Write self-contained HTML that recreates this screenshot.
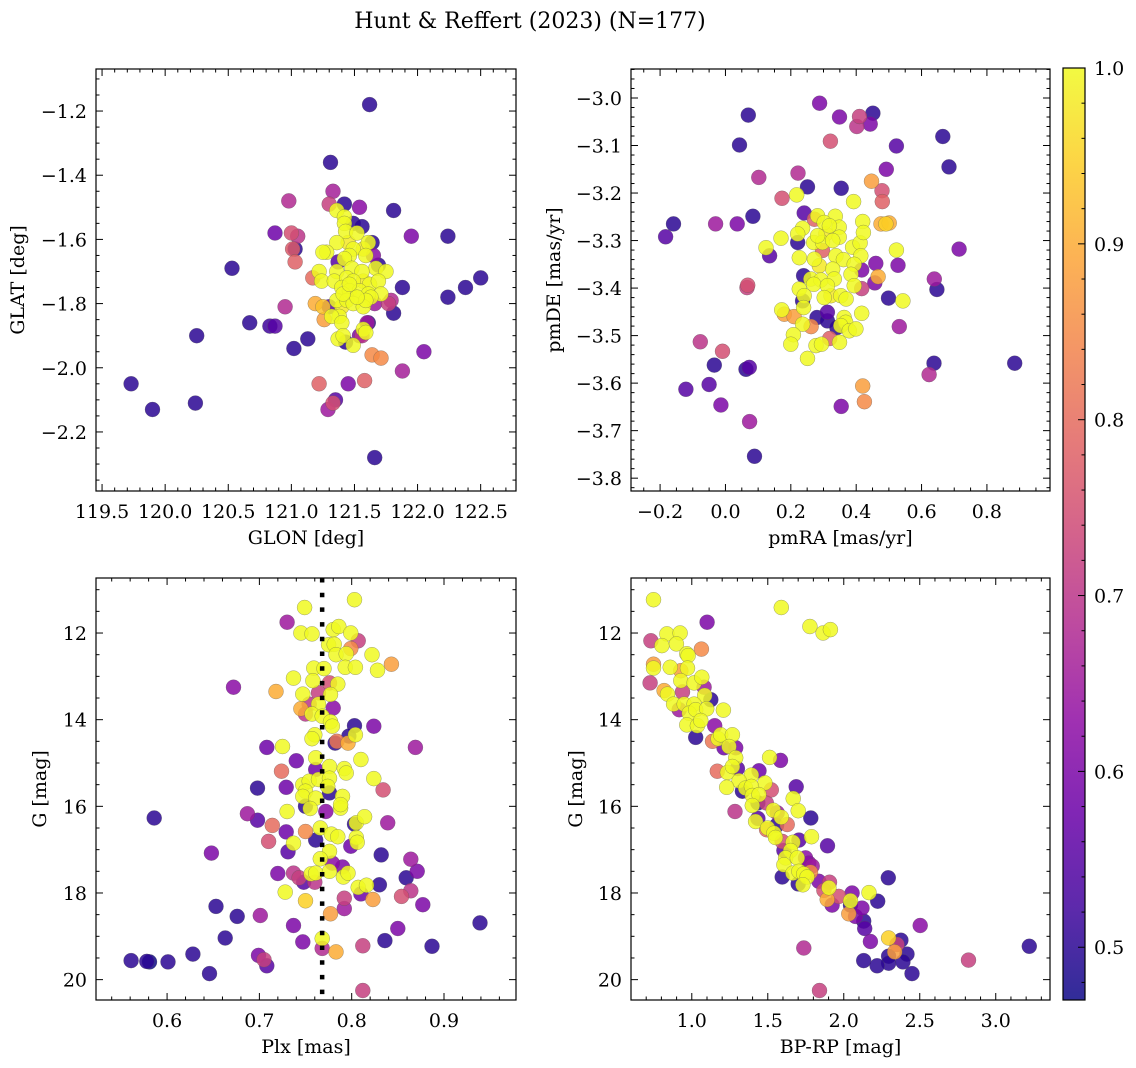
<!DOCTYPE html>
<html><head><meta charset="utf-8"><title>Hunt & Reffert (2023)</title>
<style>
html,body{margin:0;padding:0;background:#fff;}
svg{display:block;font-family:"DejaVu Serif","Liberation Serif",serif;}
</style></head>
<body>
<svg id="fig" width="1136" height="1068" viewBox="0 0 1136 1068" xmlns="http://www.w3.org/2000/svg">
<text x="530" y="28" text-anchor="middle" font-size="22">Hunt &amp; Reffert (2023) (N=177)</text>
</svg>
<script>
// ---------- Panel 1: GLON vs GLAT ----------
const glon = [121.62,121.31,121.33,120.98,121.30,121.42,121.54,121.81,120.87,121.00,121.05,121.95,122.24,121.03,121.01,121.03,120.53,121.17,121.88,122.50,122.38,122.24,121.79,121.77,121.81,120.95,121.19,121.25,120.67,120.83,120.87,121.26,120.25,121.13,121.02,121.60,121.56,121.64,121.71,122.05,121.88,119.73,119.90,120.24,121.22,121.45,121.58,121.35,121.33,121.29,121.66,
121.49,121.56,121.64,121.37,121.69,121.65,121.30,121.61,121.43,121.66,121.54,
121.36,121.42,121.42,121.43,121.52,121.36,121.45,121.49,121.61,121.28,121.25,121.46,121.59,121.57,121.42,121.67,121.75,121.22,121.24,121.36,121.48,121.56,121.34,121.44,121.49,121.57,121.62,121.69,121.71,121.40,121.46,121.54,121.61,121.63,121.36,121.44,121.49,121.57,121.40,121.38,121.32,121.40,121.37,121.41,121.49,121.57,121.59,121.59,121.52,121.41,121.46];
const glat = [-1.18,-1.36,-1.45,-1.48,-1.49,-1.49,-1.50,-1.51,-1.58,-1.58,-1.59,-1.59,-1.59,-1.63,-1.63,-1.67,-1.69,-1.72,-1.75,-1.72,-1.75,-1.78,-1.79,-1.80,-1.83,-1.81,-1.80,-1.81,-1.86,-1.87,-1.87,-1.85,-1.90,-1.91,-1.94,-1.86,-1.90,-1.96,-1.97,-1.95,-2.01,-2.05,-2.13,-2.11,-2.05,-2.05,-2.04,-2.10,-2.11,-2.13,-2.28,
-1.55,-1.56,-1.61,-1.67,-1.68,-1.65,-1.81,-1.86,-1.92,-1.80,-1.90,
-1.51,-1.53,-1.55,-1.575,-1.58,-1.61,-1.61,-1.63,-1.61,-1.64,-1.64,-1.65,-1.65,-1.63,-1.66,-1.69,-1.70,-1.70,-1.73,-1.70,-1.69,-1.70,-1.73,-1.72,-1.73,-1.73,-1.74,-1.73,-1.77,-1.75,-1.76,-1.76,-1.77,-1.78,-1.79,-1.79,-1.80,-1.81,-1.81,-1.84,-1.84,-1.86,-1.91,-1.90,-1.93,-1.88,-1.89,-1.79,-1.78,-1.77,-1.74];
const probTL = [0.5,0.5,0.66,0.68,0.72,0.5,0.62,0.5,0.58,0.75,0.7,0.6,0.5,0.5,0.77,0.78,0.5,0.8,0.5,0.5,0.5,0.5,0.68,0.72,0.5,0.68,0.9,0.93,0.5,0.52,0.55,0.88,0.5,0.5,0.5,0.65,0.7,0.85,0.85,0.6,0.66,0.5,0.5,0.5,0.78,0.6,0.78,0.55,0.75,0.65,0.5,
0.5,0.5,0.5,0.55,0.5,0.62,0.55,0.5,0.5,0.65,0.6,
1,1,1,1,1,1,0.98,1,1,1,1,1,1,0.98,1,1,1,1,1,1,1,1,1,1,1,0.98,1,1,1,1,1,1,1,1,1,1,1,1,0.98,1,1,1,1,1,1,1,1,1,1,1,1];

// ---------- Panel 2: pmRA vs pmDE ----------
const pmra = [0.288,0.070,0.349,0.410,0.451,0.402,0.443,0.321,0.043,0.665,0.523,0.684,0.492,0.102,0.222,0.447,0.251,0.354,0.479,0.480,0.173,0.218,0.392,0.241,0.084,-0.159,-0.183,-0.030,0.036,0.715,0.135,0.124,0.170,0.476,0.491,0.501,0.523,0.460,0.528,0.639,0.647,0.068,0.066,0.499,0.543,0.467,0.457,0.417,0.532,0.172,0.180,0.210,-0.077,-0.009,-0.034,0.063,0.073,0.638,0.623,0.885,-0.121,-0.050,-0.014,0.420,0.425,0.354,0.074,0.089,0.319,0.262,
0.221,0.239,0.236,0.280,0.312,0.312,0.341,0.417,0.417,0.297,0.272,
0.282,0.336,0.302,0.348,0.318,0.236,0.221,0.307,0.348,0.270,0.297,0.328,0.389,0.412,0.420,0.422,0.226,0.272,0.287,0.338,0.361,0.414,0.394,0.328,0.384,0.261,0.292,0.333,0.270,0.312,0.394,0.226,0.241,0.302,0.323,0.353,0.369,0.239,0.236,0.208,0.200,0.251,0.277,0.294,0.349,0.363,0.368,0.353,0.379,0.399,0.282];
const pmde = [-3.011,-3.036,-3.040,-3.039,-3.032,-3.060,-3.055,-3.091,-3.099,-3.081,-3.101,-3.145,-3.150,-3.167,-3.158,-3.175,-3.187,-3.190,-3.195,-3.218,-3.211,-3.204,-3.218,-3.242,-3.249,-3.265,-3.292,-3.265,-3.265,-3.318,-3.332,-3.315,-3.295,-3.265,-3.265,-3.263,-3.320,-3.348,-3.352,-3.381,-3.403,-3.394,-3.399,-3.421,-3.427,-3.376,-3.389,-3.453,-3.481,-3.446,-3.455,-3.460,-3.513,-3.533,-3.562,-3.571,-3.567,-3.558,-3.582,-3.558,-3.613,-3.603,-3.646,-3.606,-3.639,-3.649,-3.681,-3.754,-3.506,-3.481,
-3.304,-3.374,-3.427,-3.462,-3.451,-3.469,-3.483,-3.401,-3.362,-3.321,-3.255,
-3.248,-3.249,-3.262,-3.272,-3.269,-3.274,-3.286,-3.286,-3.293,-3.304,-3.304,-3.300,-3.314,-3.305,-3.260,-3.283,-3.336,-3.339,-3.353,-3.332,-3.340,-3.332,-3.350,-3.360,-3.371,-3.381,-3.383,-3.381,-3.392,-3.395,-3.395,-3.402,-3.416,-3.420,-3.416,-3.416,-3.423,-3.441,-3.476,-3.498,-3.518,-3.548,-3.521,-3.518,-3.514,-3.462,-3.472,-3.479,-3.490,-3.486,-3.290];
const probTR = [0.6,0.5,0.6,0.72,0.5,0.7,0.6,0.75,0.5,0.5,0.55,0.5,0.6,0.68,0.68,0.88,0.5,0.5,0.75,0.78,0.75,1,1,0.55,0.5,0.5,0.55,0.65,0.6,0.6,0.55,1,1,0.9,0.95,0.9,1,0.6,0.6,0.65,0.5,0.75,0.72,0.5,1,0.9,0.6,1,0.65,1,0.88,0.88,0.7,0.75,0.5,0.5,0.55,0.5,0.68,0.5,0.55,0.55,0.6,0.88,0.85,0.6,0.65,0.5,0.78,0.85,
0.5,0.5,0.5,0.5,0.55,0.5,0.5,0.72,0.6,0.78,0.78,
1,1,1,1,1,1,1,0.98,1,1,1,1,1,1,1,1,1,1,0.98,1,1,1,1,1,1,1,1,1,1,1,1,1,1,1,0.98,1,1,1,1,1,1,1,1,1,1,1,1,1,1,1,1];

// ---------- Panel 3: Plx vs G ----------
const plx = [0.749,0.803,0.730,0.745,0.757,0.780,0.786,0.799,0.807,0.799,0.775,0.781,0.783,0.794,0.822,0.759,0.770,0.793,0.804,0.828,0.843,0.737,0.672,0.718,0.758,0.776,0.785,0.747,0.764,0.777,0.754,0.764,0.780,0.745,0.750,0.757,0.768,0.777,0.779,0.803,0.824,0.797,0.804,0.782,0.784,0.796,0.760,0.757,0.708,0.725,0.869,0.740,0.761,0.810,0.761,0.776,0.792,0.794,0.724,0.824,0.834,0.698,0.729,0.747,0.754,0.764,0.776,0.774,0.750,0.776,0.790,0.747,0.761,0.586,0.687,0.698,0.730,0.750,0.755,0.772,0.788,0.788,0.714,0.729,0.750,0.766,0.761,0.778,0.785,0.803,0.805,0.814,0.839,0.710,0.737,0.731,0.799,0.805,0.806,0.648,0.776,0.766,0.832,0.864,0.720,0.737,0.743,0.748,0.756,0.761,0.760,0.776,0.779,0.790,0.791,0.796,0.807,0.816,0.810,0.830,0.859,0.871,0.728,0.750,0.792,0.823,0.854,0.864,0.877,0.653,0.676,0.701,0.777,0.792,0.737,0.850,0.939,0.663,0.747,0.768,0.768,0.783,0.812,0.836,0.887,0.628,0.561,0.578,0.581,0.601,0.699,0.705,0.708,0.646,0.812];
const gPlx = [11.41,11.23,11.75,12.00,12.02,11.92,11.85,12.00,12.18,12.36,12.27,12.26,12.50,12.48,12.50,12.81,12.82,12.79,12.79,12.86,12.72,13.04,13.25,13.35,13.10,13.15,13.18,13.41,13.38,13.42,13.64,13.64,13.73,13.75,13.87,13.87,13.92,14.05,14.15,14.14,14.15,14.38,14.35,14.54,14.50,14.54,14.35,14.44,14.64,14.62,14.64,14.95,14.88,14.92,15.15,15.08,15.13,15.23,15.19,15.36,15.62,15.58,15.56,15.50,15.42,15.38,15.35,15.54,15.65,15.69,15.77,15.77,15.81,16.27,16.17,16.32,16.12,16.00,16.05,16.12,16.04,15.96,16.44,16.59,16.58,16.50,16.78,16.64,16.70,16.41,16.38,16.24,16.38,16.81,16.85,17.05,16.92,16.72,16.83,17.08,17.04,17.21,17.12,17.22,17.55,17.54,17.65,17.75,17.56,17.54,17.75,17.50,17.31,17.40,17.63,17.54,17.87,17.82,18.02,17.81,17.65,17.50,17.98,18.18,18.12,18.15,18.08,17.95,18.27,18.31,18.54,18.52,18.48,18.36,18.75,18.82,18.69,19.04,19.13,19.05,19.28,19.36,19.22,19.10,19.23,19.41,19.56,19.58,19.59,19.59,19.44,19.54,19.68,19.86,20.25];
const probBL = [1,1,0.65,1,1,1,1,1,0.72,0.85,1,1,1,1,1,1,1,1,1,1,0.88,1,0.62,0.9,1,0.75,1,1,0.72,1,0.7,1,0.62,0.9,0.7,1,1,1,1,0.5,0.6,0.5,1,0.5,0.82,0.9,1,1,0.58,1,0.65,0.58,1,1,0.58,1,1,1,0.8,1,0.75,0.5,0.58,1,1,1,1,1,1,0.5,1,1,1,0.5,0.65,0.55,1,0.5,1,0.62,1,1,0.8,0.58,0.85,1,0.5,1,1,0.5,1,1,0.65,0.75,1,0.55,0.58,1,1,0.6,1,1,0.5,0.65,0.6,0.7,0.72,0.55,1,1,0.7,1,0.62,0.6,1,1,1,1,0.58,0.5,0.5,0.6,1,0.95,0.72,0.88,0.75,0.7,0.6,0.5,0.5,0.65,0.88,0.65,0.6,0.6,0.5,0.5,0.6,1,0.68,0.9,0.72,0.5,0.5,0.5,0.5,0.5,0.45,0.5,0.6,0.72,0.55,0.5,0.72];
const plxRef = [0.768];

// ---------- Panel 4: BP-RP vs G ----------
const bprp = [0.748,1.589,1.101,1.777,1.864,1.912,0.836,0.923,0.731,0.803,0.899,1.063,0.967,0.976,0.748,0.748,0.858,0.928,0.972,0.726,0.928,1.015,1.066,0.818,0.840,0.939,1.081,1.085,1.125,0.880,0.950,1.015,0.917,0.983,1.026,1.098,1.208,0.967,1.037,1.059,1.026,1.151,1.136,1.173,1.190,1.267,1.212,1.245,1.289,1.512,1.584,1.289,1.168,1.234,1.267,1.300,1.442,1.392,1.481,1.311,1.230,1.333,1.354,1.392,1.398,1.442,1.523,1.687,1.398,1.435,1.284,1.490,1.536,1.562,1.589,1.667,1.700,1.783,1.420,1.435,1.492,1.499,1.540,1.558,1.628,1.551,1.595,1.665,1.705,1.788,1.893,1.606,1.650,1.617,1.606,1.694,1.748,1.770,1.792,1.595,1.665,1.705,1.737,1.759,1.781,1.700,1.731,1.836,1.906,1.902,1.869,1.891,1.923,1.967,2.044,2.033,2.044,2.055,2.077,2.120,2.131,2.138,2.166,2.293,2.223,2.175,2.503,1.737,2.295,2.376,2.350,2.335,2.416,2.295,2.295,2.389,2.131,2.219,2.449,2.821,3.221,1.840];
const gCmd = [11.23,11.41,11.75,11.85,12.00,11.92,12.02,12.00,12.18,12.29,12.25,12.37,12.48,12.52,12.72,12.81,12.79,12.87,12.81,13.15,13.10,13.15,13.02,13.33,13.41,13.36,13.25,13.44,13.54,13.64,13.64,13.64,13.77,13.85,13.77,13.75,13.78,14.12,14.14,14.02,14.41,14.14,14.50,14.44,14.35,14.35,14.65,14.62,14.65,14.87,14.94,14.88,15.19,15.22,15.08,15.13,15.18,15.28,15.46,15.41,15.56,15.65,15.58,15.54,15.75,15.73,15.62,15.55,15.98,15.92,16.12,15.92,16.09,16.15,16.25,15.82,16.10,16.27,16.35,16.28,16.54,16.50,16.62,16.44,16.42,16.72,16.81,16.83,16.78,16.70,16.91,17.02,17.02,17.19,17.35,17.19,17.19,17.31,17.38,17.63,17.54,17.50,17.56,17.63,17.52,17.79,17.81,17.73,17.75,17.88,17.94,18.15,18.28,18.08,18.28,18.48,18.18,18.00,18.54,18.35,18.65,18.82,17.99,17.65,18.19,19.12,18.75,19.27,19.04,19.09,19.19,19.36,19.41,19.46,19.62,19.59,19.56,19.68,19.86,19.55,19.23,20.25];
const probBR = [1,1,0.6,1,1,1,1,1,0.72,1,1,0.85,1,1,0.88,1,1,0.88,1,0.72,1,1,1,0.9,1,0.72,0.65,1,0.5,1,1,1,0.65,1,1,1,1,1,1,1,0.5,0.62,0.82,1,1,1,0.58,1,0.6,1,0.6,1,0.8,1,1,0.55,0.58,1,1,1,1,0.5,1,1,1,1,0.75,0.55,1,0.5,0.7,0.72,1,0.65,1,1,1,0.5,1,0.55,0.8,1,1,0.5,0.8,1,0.75,1,0.55,1,0.55,0.55,1,1,1,1,0.62,0.62,0.65,0.5,1,1,1,1,0.85,0.5,1,0.6,0.72,1,0.75,0.9,0.6,0.75,0.5,0.88,1,0.6,0.6,0.6,0.5,0.55,1,0.5,0.5,0.6,0.62,0.68,0.95,0.5,0.72,0.88,0.5,0.5,0.5,0.5,0.5,0.5,0.5,0.72,0.5,0.72];

// ---------- Colorbar ----------
const cbarTicks = [0.5,0.6,0.7,0.8,0.9,1.0];
const cbarRange = [0.47,1.0];

const NS = "http://www.w3.org/2000/svg";
const svg = document.getElementById('fig');
const FS = 19;
const plasmaStops = ["#0d0887","#41049d","#6a00a8","#8f0da4","#b12a90","#cc4778","#e16462","#f2844b","#fca636","#fcce25","#f0f921"];
function hex2rgb(h){return [parseInt(h.substr(1,2),16),parseInt(h.substr(3,2),16),parseInt(h.substr(5,2),16)];}
function plasma(t){
  t=Math.max(0,Math.min(1,t));
  const f=t*10, i=Math.min(9,Math.floor(f)), r=f-i;
  const a=hex2rgb(plasmaStops[i]), b=hex2rgb(plasmaStops[i+1]);
  return "rgb("+a.map((v,k)=>Math.round(v+(b[k]-v)*r)).join(",")+")";
}
function cnorm(v){return (v-cbarRange[0])/(cbarRange[1]-cbarRange[0]);}
function mk(tag,attrs,parent){const e=document.createElementNS(NS,tag);for(const k in attrs)e.setAttribute(k,attrs[k]);(parent||svg).appendChild(e);return e;}
function fmt(v,d){const s=Math.abs(v).toFixed(d);return (v<-1e-9?"\u2212":"")+s;}
function tickVals(lo,hi,step){const a=[];const k0=Math.ceil(Math.min(lo,hi)/step-1e-6),k1=Math.floor(Math.max(lo,hi)/step+1e-6);for(let k=k0;k<=k1;k++)a.push(+(k*step).toFixed(6));return a;}

function panel(cfg){
  const {name,x0,x1,y0,y1,xd,yd,xMaj,xMin,yMaj,yMin,xDec,yDec,xLabel,yLabel,yLabelX,xs,ys,cs} = cfg;
  const sx=v=>x0+(v-xd[0])/(xd[1]-xd[0])*(x1-x0);
  const sy=v=>y1-(v-yd[0])/(yd[1]-yd[0])*(y1-y0);
  const g=mk('g',{});
  
  
  const clipId=name+'-clip';
  const cp=mk('clipPath',{id:clipId},g); mk('rect',{x:x0,y:y0,width:x1-x0,height:y1-y0},cp);
  const pts=mk('g',{'clip-path':'url(#'+clipId+')'},g);
  
  
  const idx=xs.map((_,i)=>i).sort((a,b)=>cs[a]-cs[b]);
  idx.forEach(i=>{
    const c=mk('circle',{cx:sx(xs[i]).toFixed(1),cy:sy(ys[i]).toFixed(1),r:7.5,fill:plasma(cnorm(cs[i])),'fill-opacity':0.85,stroke:'#555','stroke-width':0.5,'stroke-opacity':0.55},pts);
    
    
  });
  if(cfg.vline){
    const l=mk('line',{x1:sx(cfg.vline[0]),x2:sx(cfg.vline[0]),y1:y0,y2:y1,stroke:'#000','stroke-width':4.5,'stroke-dasharray':'4.5 10.2'},g);
    
    
  }
  const fr=mk('rect',{x:x0,y:y0,width:x1-x0,height:y1-y0,fill:'none',stroke:'#000','stroke-width':1.2},g);
  
  
  const tk=mk('g',{stroke:'#000','stroke-width':1},g);
  const xm=tickVals(xd[0],xd[1],xMaj), xn=tickVals(xd[0],xd[1],xMin);
  xn.forEach(v=>{const maj=xm.some(m=>Math.abs(m-v)<1e-6);const L=maj?7:3.5;const X=sx(v);
    mk('line',{x1:X,x2:X,y1:y1,y2:y1-L},tk);mk('line',{x1:X,x2:X,y1:y0,y2:y0+L},tk);});
  const ym=tickVals(yd[0],yd[1],yMaj), yn=tickVals(yd[0],yd[1],yMin);
  yn.forEach(v=>{const maj=ym.some(m=>Math.abs(m-v)<1e-6);const L=maj?7:3.5;const Y=sy(v);
    mk('line',{x1:x0,x2:x0+L,y1:Y,y2:Y},tk);mk('line',{x1:x1,x2:x1-L,y1:Y,y2:Y},tk);});
  xm.forEach(v=>{const t=mk('text',{x:sx(v),y:y1+27,'text-anchor':'middle','font-size':FS},g);t.textContent=fmt(v,xDec);
    
    });
  ym.forEach(v=>{const t=mk('text',{x:x0-9,y:sy(v)+7,'text-anchor':'end','font-size':FS},g);t.textContent=fmt(v,yDec);
    
    });
  const xl=mk('text',{x:(x0+x1)/2,y:y1+53,'text-anchor':'middle','font-size':FS},g);xl.textContent=xLabel;
  
  
  const yc=(y0+y1)/2;
  const yl=mk('text',{x:yLabelX,y:yc,'text-anchor':'middle','font-size':FS,transform:'rotate(-90 '+yLabelX+' '+yc+')'},g);yl.textContent=yLabel;
  
  
}

panel({name:'position',x0:96,x1:516,y0:69,y1:491,xd:[119.452,122.78],yd:[-2.384,-1.069],xMaj:0.5,xMin:0.1,yMaj:0.2,yMin:0.05,xDec:1,yDec:1,xLabel:'GLON [deg]',yLabel:'GLAT [deg]',yLabelX:24,xs:glon,ys:glat,cs:probTL});
panel({name:'proper-motion',x0:631,x1:1050,y0:69,y1:491,xd:[-0.289,0.993],yd:[-3.827,-2.939],xMaj:0.2,xMin:0.05,yMaj:0.1,yMin:0.02,xDec:1,yDec:1,xLabel:'pmRA [mas/yr]',yLabel:'pmDE [mas/yr]',yLabelX:560,xs:pmra,ys:pmde,cs:probTR});
panel({name:'parallax',x0:96,x1:516,y0:578,y1:1000,xd:[0.523,0.978],yd:[20.47,10.73],xMaj:0.1,xMin:0.02,yMaj:2,yMin:0.5,xDec:1,yDec:0,xLabel:'Plx [mas]',yLabel:'G [mag]',yLabelX:46,xs:plx,ys:gPlx,cs:probBL,vline:plxRef});
panel({name:'cmd',x0:631,x1:1050,y0:578,y1:1000,xd:[0.60,3.357],yd:[20.47,10.73],xMaj:0.5,xMin:0.1,yMaj:2,yMin:0.5,xDec:1,yDec:0,xLabel:'BP-RP [mag]',yLabel:'G [mag]',yLabelX:582,xs:bprp,ys:gCmd,cs:probBR});

// colorbar
(function(){
  const cx0=1063,cx1=1085,cy0=68,cy1=1000;
  const defs=mk('defs',{});
  const lg=mk('linearGradient',{id:'plasmaGrad',x1:0,y1:1,x2:0,y2:0},defs);
  plasmaStops.forEach((c,i)=>mk('stop',{offset:(i*10)+'%','stop-color':c},lg));
  const g=mk('g',{});
  
  
  mk('rect',{x:cx0,y:cy0,width:cx1-cx0,height:cy1-cy0,fill:'url(#plasmaGrad)','fill-opacity':0.85},g);
  mk('rect',{x:cx0,y:cy0,width:cx1-cx0,height:cy1-cy0,fill:'none',stroke:'#000','stroke-width':1.2},g);
  const sy=v=>cy1-cnorm(v)*(cy1-cy0);
  tickVals(cbarRange[0],cbarRange[1],0.02).forEach(v=>{
    const maj=cbarTicks.some(m=>Math.abs(m-v)<1e-6);
    mk('line',{x1:cx1,x2:cx1-(maj?7:3.5),y1:sy(v),y2:sy(v),stroke:'#000','stroke-width':1},g);
  });
  cbarTicks.forEach(v=>{const t=mk('text',{x:cx1+9,y:sy(v)+7,'font-size':FS},g);t.textContent=v.toFixed(1);
    
    });
})();
</script>
</body></html>
